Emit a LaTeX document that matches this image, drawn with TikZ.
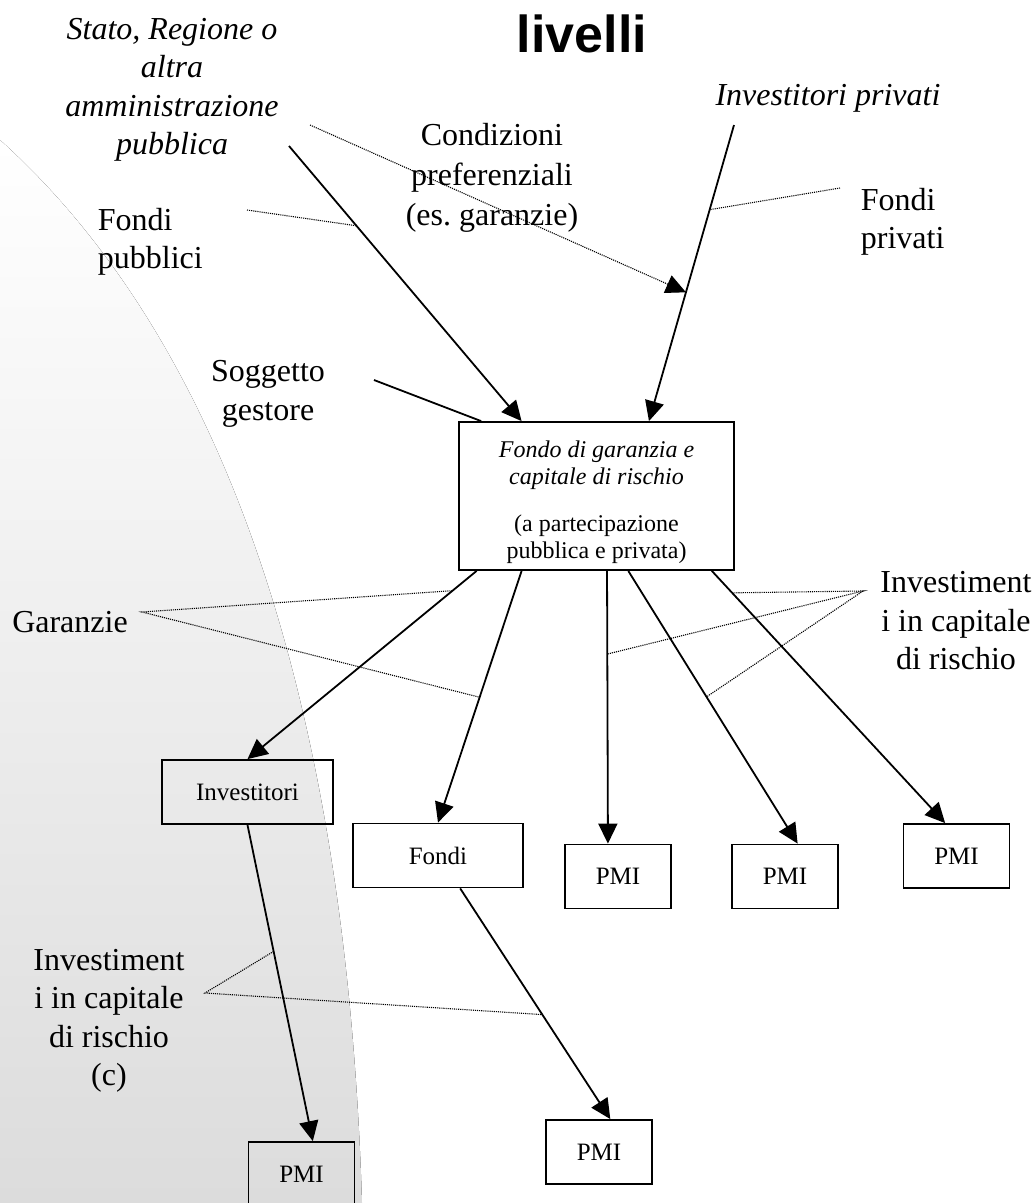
\documentclass[tikz,border=0pt]{standalone}
\usepackage{fontspec}
\setmainfont{Liberation Serif}
\newfontfamily\titlefont{Liberation Sans}
\usepackage{tikz}
\usetikzlibrary{arrows.meta, positioning}
\definecolor{bggray}{RGB}{220,220,220}
\frenchspacing

\begin{document}
\begin{tikzpicture}[x=1pt,y=-1pt,node distance=167pt,on grid,line width=1.8pt,
    >={Triangle[length=20pt,width=19pt]}]
  \tikzstyle{pbox}=[draw, rectangle, minimum width=106pt, minimum height=64pt, font=\fontsize{25}{29}\selectfont]
  \tikzstyle{txt}=[inner sep=0pt, align=center, font=\fontsize{32}{38.5}\selectfont]
  \tikzstyle{itxt}=[txt, font=\fontsize{32}{38.5}\selectfont\itshape]
  \tikzstyle{hint}=[densely dotted, line width=1.1pt]

  \useasboundingbox (0,0) rectangle (1036,1203);
  \clip (0,0) rectangle (1036,1203);
  \fill[white] (0,0) rectangle (1036,1203);
  % background arc
  \fill[top color=white, bottom color=bggray]
    (0,140) .. controls (200,320) and (345,650) .. (362,1203) -- (0,1203) -- cycle;

  \node[txt, anchor=base, font=\titlefont\bfseries\fontsize{52}{60}\selectfont] (title) at (582,52) {livelli};
  \node[itxt] (stato) at (172,90) {Stato, Regione o\\altra\\amministrazione\\pubblica};
  \node[itxt] (privati) at (828,98) {Investitori privati};
  \node[txt, font=\fontsize{32}{40}\selectfont] (cond) at (492,178) {Condizioni\\preferenziali\\(es. garanzie)};
  \node[txt, anchor=west, align=left] (fpub) at (97,242) {Fondi\\pubblici};
  \node[txt, anchor=west, align=left] (fpriv) at (860,222) {Fondi\\privati};
  \node[txt] (sogg) at (268,394) {Soggetto\\gestore};
  \node[txt] (gar) at (70,622) {Garanzie};
  \node[txt] (invcapR) at (956,621) {Investiment\\i in capitale\\di rischio};
  \node[txt] (invcapL) at (109,1021) {Investiment\\i in capitale\\di rischio\\(c)};

  \node[pbox, minimum width=275pt, minimum height=148pt, align=center, font=\fontsize{24}{27}\selectfont] (fondo) at (596.5,496)
    {\rule{0pt}{29pt}\textit{Fondo di garanzia e}\\\textit{capitale di rischio}\\[20pt](a partecipazione\\pubblica e privata)};
  \node[pbox, minimum width=171pt] (inv)   at (247.5,792) {Investitori};
  \node[pbox, minimum width=170pt] (fondi) at (438,855.5) {Fondi};
  \node[pbox] (pmiA) at (618,876.5) {PMI};
  \node[pbox] (pmiB) [right of=pmiA] {PMI};
  \node[pbox] (pmiC) at (956.5,856) {PMI};
  \node[pbox] (pmiM) at (599,1152) {PMI};
  \node[pbox] (pmiL) at (301.5,1174) {PMI};

  \coordinate (statoEnd) at (289,146);
  \coordinate (privEnd)  at (734,125);
  \coordinate (soggEnd)  at (374,380);
  \coordinate (condEnd)  at (310,125);
  \coordinate (fpubEnd)  at (247,210);
  \coordinate (fprivEnd) at (840,188);
  \coordinate (garApex)  at (142,612);
  \coordinate (invRApex) at (863,591);
  \coordinate (invLApex) at (205,993);

  \path[->]
  (statoEnd) edge node[coordinate,pos=0.29] (sHit) {} (fondo.135.2)
  (privEnd) edge node[coordinate,pos=0.286] (pHit1) {} node[coordinate,pos=0.565] (pHit2) {} (fondo.55.2)
  (soggEnd) edge[-] (fondo.147.6)
  (fondo.212.4) edge node[coordinate,pos=0.105] (gHit1) {} (inv.north)
  (fondo.225.2) edge node[coordinate,pos=0.502] (gHit2) {} (fondi.north)
  (fondo.278.8) edge node[coordinate,pos=0.305] (rHit2) {} (pmiA.107.6)
  (fondo.293.1) edge node[coordinate,pos=0.462] (rHit3) {} (pmiB.69.1)
  (fondo.327.6) edge node[coordinate,pos=0.087] (rHit1) {} (pmiC.109.8)
  (inv.south) edge node[coordinate,pos=0.40] (lHit1) {} (pmiL.71.8)
  (fondi.304.1) edge node[coordinate,pos=0.547] (lHit2) {} (pmiM.71);

  \draw[hint] (fpubEnd) -- (sHit);
  \draw[hint,->] (condEnd) -- (pHit2);
  \draw[hint] (fprivEnd) -- (pHit1);
  \draw[hint] (gHit1) -- (garApex) -- (gHit2);
  \draw[hint] (rHit1) -- (invRApex) -- (rHit2);
  \draw[hint] (invRApex) -- (rHit3);
  \draw[hint] (lHit1) -- (invLApex) -- (lHit2);
\end{tikzpicture}
\end{document}
